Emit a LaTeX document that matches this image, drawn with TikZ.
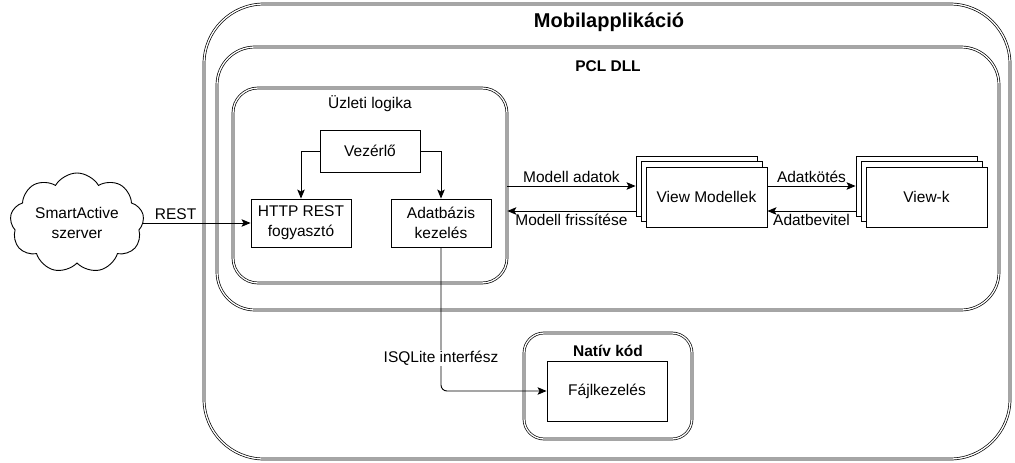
\documentclass[tikz,border=0pt]{standalone}
\usepackage{fontspec}
\setmainfont{Liberation Sans}
\usetikzlibrary{arrows.meta,shapes.symbols}
\begin{document}
\begin{tikzpicture}[x=1pt,y=-1pt,
  font=\fontsize{15.5}{20}\selectfont,
  dbl/.style={draw, line width=0.7pt, double=white, double distance=1.3pt, fill=white},
  box/.style={draw, line width=0.9pt, fill=white, inner sep=0pt, align=center},
  arr/.style={line width=0.9pt, -{Stealth[length=9pt,width=7.5pt,inset=2pt]}},
  lbl/.style={inner sep=3pt}
]
\useasboundingbox (0,0) rectangle (1015,463);
% containers
\node[dbl, rounded corners=60pt, minimum width=806pt, minimum height=455pt] (app) at (607,231.5) {};
\node[font=\fontsize{20}{24}\selectfont\bfseries] (apptitle) at (609,22) {Mobilapplikáció};
\node[dbl, rounded corners=38pt, minimum width=782pt, minimum height=263pt] (pcl) at (608,178.5) {};
\node[font=\fontsize{15.5}{20}\selectfont\bfseries] (pcltitle) at (608,66) {PCL DLL};
\node[dbl, rounded corners=25pt, minimum width=274pt, minimum height=195pt] (logic) at (370,185.5) {};
\node (logictitle) at (370,104) {Üzleti logika};
\node[dbl, rounded corners=20pt, minimum width=168pt, minimum height=106pt] (native) at (608,386) {};
\node[font=\fontsize{15.5}{20}\selectfont\bfseries] (nativetitle) at (608,351) {Natív kód};
% inner boxes
\node[box, minimum width=100pt, minimum height=42pt] (ctrl) at (370,151) {Vezérlő};
\node[box, minimum width=100pt, minimum height=48pt] (http) at (301,223) {HTTP REST\\fogyasztó};
\node[box, minimum width=100pt, minimum height=48pt] (db) at (441,223) {Adatbázis\\kezelés};
\node[box, minimum width=120pt, minimum height=60pt] (fk) at (607,391) {Fájlkezelés};
% view models stack
\node[box, minimum width=121pt, minimum height=60pt] (vm3) at (696.5,186) {};
\node[box, minimum width=121pt, minimum height=60pt] (vm2) at (701.5,191.5) {};
\node[box, minimum width=121pt, minimum height=60pt] (vm1) at (706.5,197) {View Modellek};
\node[box, minimum width=121pt, minimum height=60pt] (vk3) at (916.5,186) {};
\node[box, minimum width=121pt, minimum height=60pt] (vk2) at (921.5,191.5) {};
\node[box, minimum width=121pt, minimum height=60pt] (vk1) at (926.5,197) {View-k};
% cloud
\node[cloud, draw, line width=0.9pt, cloud puffs=9, cloud puff arc=120, aspect=1.45,
      minimum width=134pt, minimum height=100pt, inner sep=0pt, align=center, fill=white] (cloud) at (77,223) {SmartActive\\szerver};
% connectors
\draw[arr] (ctrl.west) -| (http.north);
\draw[arr] (ctrl.east) -| (db.north);
\draw[arr] (cloud.east |- http.west) -- node[lbl, above, pos=0.3] {REST} (http.west);
\draw[arr] (logic.east |- vm3.west) -- node[lbl, above] {Modell adatok} (vm3.west);
\draw[arr] ([yshift=-25pt]vm3.west) -- node[lbl, below] {Modell frissítése} ([yshift=-25pt]vm3.west -| logic.east);
\draw[arr] (vm1.east |- vk3.west) -- node[lbl, above] {Adatkötés} (vk3.west);
\draw[arr] ([yshift=-25pt]vk3.west) -- node[lbl, below] {Adatbevitel} ([yshift=-25pt]vk3.west -| vm1.east);
\draw[arr, rounded corners=6pt] (db.south) |- (fk.west);
\node[fill=white, inner sep=1pt] (isqlite) at (441,358) {ISQLite interfész};
\end{tikzpicture}
\end{document}
